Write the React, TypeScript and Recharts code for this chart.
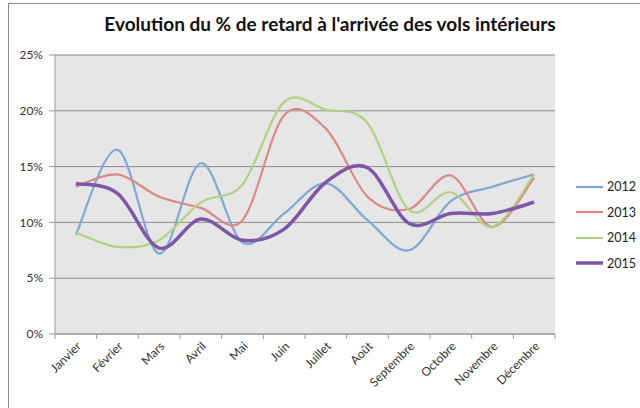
import React from 'react'
import { LineChart, Line, XAxis, YAxis, CartesianGrid } from 'recharts'

const months = ['Janvier', 'Février', 'Mars', 'Avril', 'Mai', 'Juin', 'Juillet', 'Août', 'Septembre', 'Octobre', 'Novembre', 'Décembre']
const s2012 = [8.9, 16.5, 7.2, 15.3, 8.2, 10.8, 13.5, 10.2, 7.5, 11.9, 13.2, 14.3]
const s2013 = [13.2, 14.3, 12.3, 11.3, 10.2, 19.6, 18.4, 12.3, 11.2, 14.2, 9.6, 14.0]
const s2014 = [9.1, 7.8, 8.4, 11.8, 13.4, 20.8, 20.1, 18.9, 11.1, 12.7, 9.6, 14.3]
const s2015 = [13.5, 12.6, 7.7, 10.3, 8.4, 9.4, 13.6, 14.9, 9.9, 10.8, 10.8, 11.8]
const yTicks = [0, 5, 10, 15, 20, 25]

const series = [
  { key: '2012', color: '#7fa7d4', width: 2.2 },
  { key: '2013', color: '#d98a87', width: 2.2 },
  { key: '2014', color: '#b5cf86', width: 2.2 },
  { key: '2015', color: '#7e57a6', width: 3.5 },
]

const data = months.map((m, i) => ({
  month: m,
  '2012': s2012[i],
  '2013': s2013[i],
  '2014': s2014[i],
  '2015': s2015[i],
}))

const FONT = 'Lato, "Open Sans", sans-serif'
const BAND = 500 / 12

// Excel-like smoothed line (Catmull-Rom through the points)
const excelSmooth = (context: any) => {
  let pts: number[][] = []
  return {
    areaStart() {},
    areaEnd() {},
    lineStart() { pts = [] },
    point(x: number, y: number) { pts.push([+x, +y]) },
    lineEnd() {
      const n = pts.length
      if (!n) return
      context.moveTo(pts[0][0], pts[0][1])
      for (let i = 0; i < n - 1; i++) {
        const p0 = pts[i - 1] || pts[i]
        const p1 = pts[i]
        const p2 = pts[i + 1]
        const p3 = pts[i + 2] || p2
        context.bezierCurveTo(
          p1[0] + (p2[0] - p0[0]) / 6, p1[1] + (p2[1] - p0[1]) / 6,
          p2[0] - (p3[0] - p1[0]) / 6, p2[1] - (p3[1] - p1[1]) / 6,
          p2[0], p2[1]
        )
      }
    },
  }
}

const MonthTick = (props: any) => {
  const { x, y, payload, index } = props
  const tx = x + 6
  const ty = y + 13
  return (
    <g>
      <line x1={x - BAND / 2} y1={y} x2={x - BAND / 2} y2={y + 5} stroke="#9a9a9a" />
      {index === months.length - 1 && (
        <line x1={x + BAND / 2} y1={y} x2={x + BAND / 2} y2={y + 5} stroke="#9a9a9a" />
      )}
      <text
        x={tx}
        y={ty}
        textAnchor="end"
        transform={`rotate(-45 ${tx} ${ty})`}
        fontSize={12}
        fill="#333"
        fontFamily={FONT}
      >
        {payload.value}
      </text>
    </g>
  )
}

const App = () => {
  return (
    <div style={{ position: 'absolute', left: 0, top: 0, width: 640, height: 408, overflow: 'hidden', background: '#fff' }}>
      <div style={{ position: 'absolute', left: 8, top: 3, width: 660, height: 430, border: '1px solid #8c8c8c', boxSizing: 'border-box' }} />
      <div
        style={{
          position: 'absolute', left: 0, top: 12, width: 660, textAlign: 'center',
          fontFamily: FONT, fontWeight: 700, fontSize: 19, color: '#111',
        }}
      >
        Evolution du % de retard à l'arrivée des vols intérieurs
      </div>
      <div style={{ position: 'absolute', left: 0, top: 0 }}>
        <LineChart width={640} height={408} data={data} margin={{ top: 55, right: 85, bottom: 0, left: 0 }}>
          <CartesianGrid vertical={false} stroke="#8c8c8c" fill="#e6e6e6" />
          <XAxis
            dataKey="month"
            height={74}
            interval={0}
            padding={{ left: BAND / 2, right: BAND / 2 }}
            tickSize={0}
            tickMargin={0}
            axisLine={{ stroke: '#9a9a9a' }}
            tickLine={false}
            tick={<MonthTick />}
          />
          <YAxis
            width={55}
            domain={[0, 25]}
            ticks={yTicks}
            tickFormatter={(v: number) => `${v}%`}
            tickSize={6}
            tickMargin={6}
            axisLine={{ stroke: '#9a9a9a' }}
            tickLine={{ stroke: '#9a9a9a' }}
            tick={{ fontSize: 12, fill: '#333', fontFamily: FONT }}
          />
          {series.map((s) => (
            <Line
              key={s.key}
              dataKey={s.key}
              type={excelSmooth as any}
              stroke={s.color}
              strokeWidth={s.width}
              dot={false}
              isAnimationActive={false}
            />
          ))}
        </LineChart>
      </div>
      <div style={{ position: 'absolute', left: 576, top: 174 }}>
        {series.map((s) => (
          <div key={s.key} style={{ display: 'flex', alignItems: 'center', height: 25.5 }}>
            <svg width={31} height={6}>
              <line x1={0} y1={3} x2={27} y2={3} stroke={s.color} strokeWidth={s.width} />
            </svg>
            <span style={{ fontFamily: FONT, fontSize: 12.5, color: '#222' }}>{s.key}</span>
          </div>
        ))}
      </div>
    </div>
  )
}

export default App
